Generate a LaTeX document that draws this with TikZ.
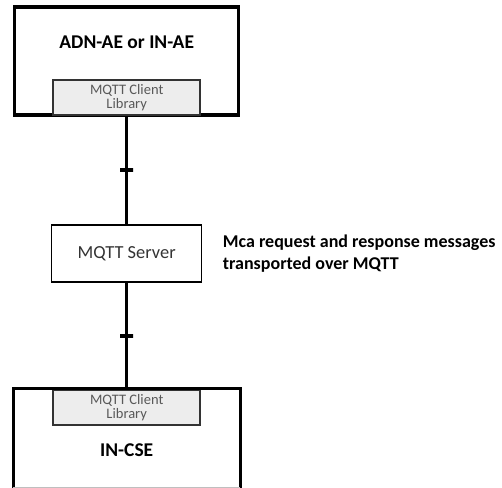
\documentclass[tikz,border=0pt]{standalone}
\usepackage{fontspec}
\setmainfont{Carlito}
\usepackage{tikz}
\tikzstyle{outerbox} = [rectangle,
minimum width=224pt,
minimum height=108pt,
line width=3.2pt]
\tikzstyle{title} = [font=\fontsize{19.5}{24}\selectfont\bfseries,
text centered]
\tikzstyle{library} = [rectangle,
minimum width=147pt,
minimum height=35pt,
inner sep=0pt,
align=center,
font=\fontsize{14.5}{13.5}\selectfont,
text=black!65,
draw=black!80,
line width=1.5pt,
fill=black!7]
\tikzstyle{server} = [rectangle,
minimum width=150pt,
minimum height=57pt,
font=\fontsize{18.4}{22}\selectfont,
text=black!80,
draw=black,
line width=1.2pt]
\tikzstyle{note} = [inner sep=0pt,
align=left,
font=\fontsize{18}{22}\selectfont\bfseries]
\tikzstyle{link} = [line width=3.5pt]
\tikzstyle{tick} = [draw, line width=3.5pt, inner sep=0pt,
minimum width=13pt, minimum height=0pt]

\begin{document}
\begin{tikzpicture}[x=1pt, y=1pt, node distance=36pt]
    \useasboundingbox (0,0) rectangle (502,487);

    \node (adnae) [outerbox, draw] at (126.7,426) {};
    \node (adnae_title) [title, above of=adnae, yshift=-17pt] {ADN-AE or IN-AE};
    \node (lib_top) [library, below of=adnae, yshift=-0.5pt] {MQTT Client\\Library};

    \node (server) [server, below of=lib_top, yshift=-120pt] {MQTT Server};
    \node (mca) [note, right of=server, xshift=60pt, anchor=west] {Mca request and response messages\\transported over MQTT};

    \node (lib_bottom) [library, below of=server, yshift=-118pt] {MQTT Client\\Library};
    \node (incse) [outerbox, minimum height=96pt, below of=lib_bottom, yshift=5.5pt] {};
    \node (incse_title) [title, below of=incse, yshift=24pt] {IN-CSE};

    \draw [link] (lib_top) -- node[tick] {} (server);
    \draw [link] (server) -- node[tick] {} (lib_bottom);
    \draw [outerbox] (incse.south west) -- (incse.north west) -- (incse.north east) -- (incse.south east);
    \draw [gray!50, thin] (incse.south west) -- (incse.south east);

\end{tikzpicture}
\end{document}
